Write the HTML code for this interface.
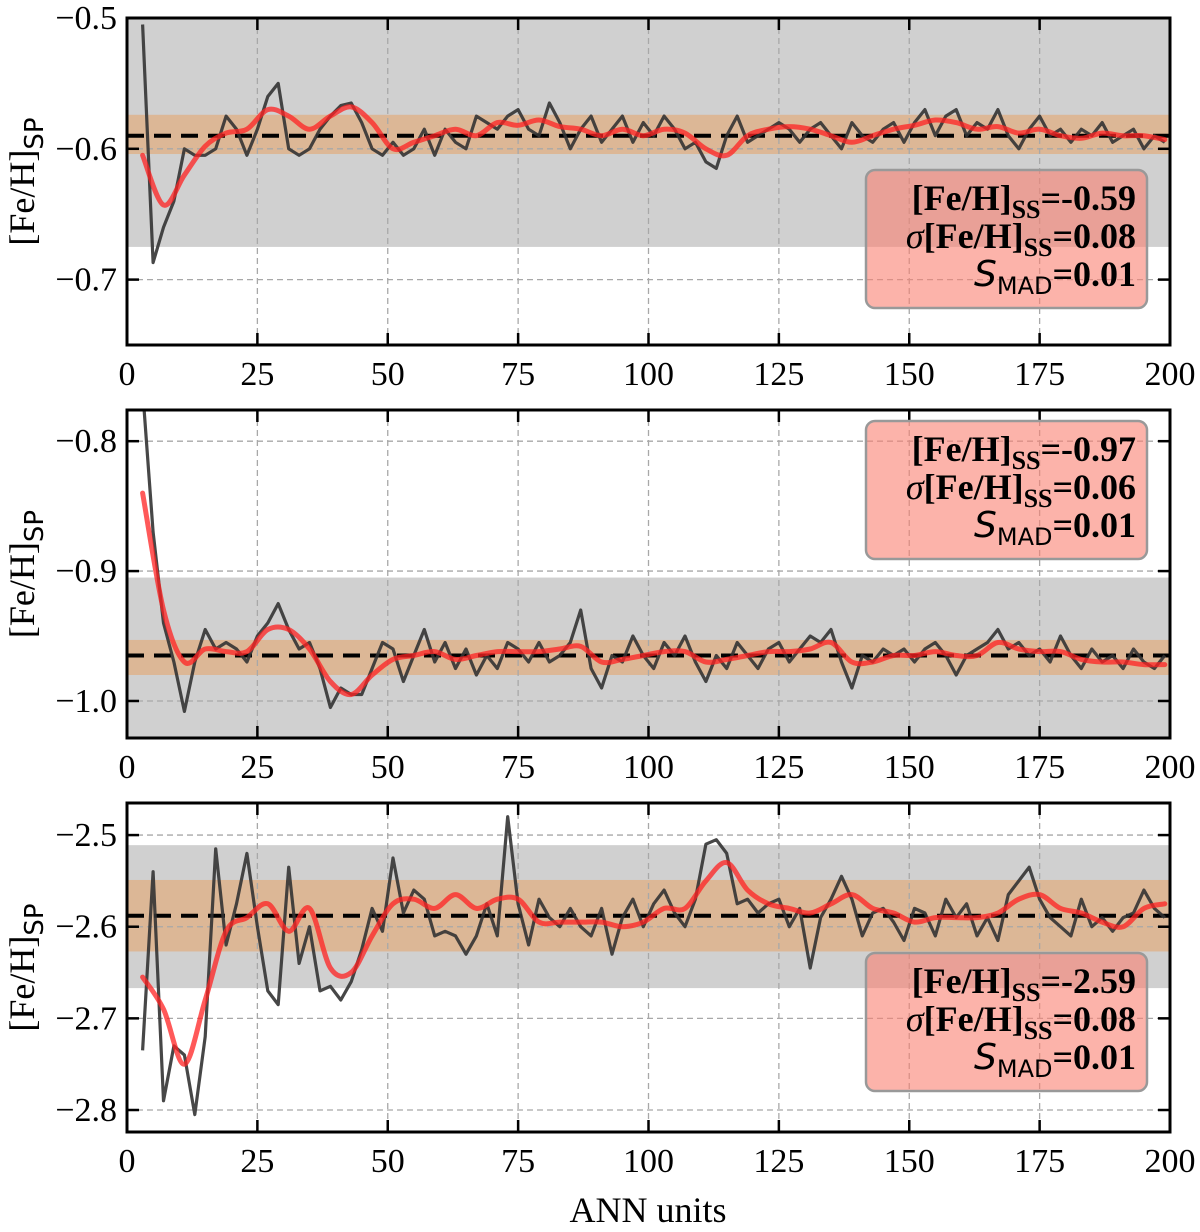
<!DOCTYPE html>
<html><head><meta charset="utf-8"><style>
html,body{margin:0;padding:0;background:#fff}
svg{display:block}
text{font-family:"Liberation Serif",serif}
</style></head><body>
<svg id="chart" width="1200" height="1232" viewBox="0 0 1200 1232" xmlns="http://www.w3.org/2000/svg"></svg>
<script>
// ---- data (x values = ANN units; black sampled every 2 units from 3, red every 4 units from 3) ----
const xTicks = [0,25,50,75,100,125,150,175,200];
const p1Black = [-0.505,-0.687,-0.66,-0.64,-0.60,-0.605,-0.605,-0.60,-0.575,-0.585,-0.605,-0.585,-0.56,-0.55,-0.60,-0.605,-0.60,-0.585,-0.575,-0.567,-0.565,-0.58,-0.60,-0.605,-0.595,-0.605,-0.60,-0.585,-0.605,-0.585,-0.595,-0.60,-0.575,-0.58,-0.585,-0.575,-0.57,-0.585,-0.59,-0.565,-0.58,-0.60,-0.585,-0.575,-0.595,-0.585,-0.575,-0.595,-0.58,-0.59,-0.575,-0.585,-0.60,-0.595,-0.61,-0.615,-0.59,-0.575,-0.595,-0.59,-0.585,-0.58,-0.585,-0.595,-0.585,-0.58,-0.59,-0.60,-0.58,-0.59,-0.595,-0.585,-0.58,-0.595,-0.58,-0.57,-0.59,-0.575,-0.57,-0.59,-0.58,-0.585,-0.57,-0.59,-0.60,-0.585,-0.575,-0.59,-0.585,-0.595,-0.585,-0.59,-0.58,-0.595,-0.59,-0.585,-0.60,-0.59,-0.595];
const p1Red = [-0.605,-0.643,-0.62,-0.598,-0.588,-0.585,-0.570,-0.575,-0.585,-0.575,-0.568,-0.580,-0.600,-0.595,-0.590,-0.585,-0.590,-0.580,-0.582,-0.578,-0.583,-0.585,-0.590,-0.585,-0.590,-0.585,-0.588,-0.600,-0.605,-0.590,-0.585,-0.583,-0.585,-0.590,-0.595,-0.590,-0.585,-0.582,-0.578,-0.580,-0.585,-0.583,-0.588,-0.585,-0.590,-0.592,-0.588,-0.590,-0.590,-0.593];
const p2Black = [-0.76,-0.87,-0.94,-0.97,-1.008,-0.97,-0.945,-0.96,-0.955,-0.96,-0.97,-0.95,-0.94,-0.925,-0.945,-0.96,-0.955,-0.975,-1.005,-0.99,-0.995,-0.995,-0.975,-0.955,-0.96,-0.985,-0.965,-0.945,-0.97,-0.955,-0.975,-0.96,-0.98,-0.965,-0.975,-0.955,-0.96,-0.97,-0.955,-0.97,-0.965,-0.955,-0.93,-0.975,-0.99,-0.965,-0.97,-0.95,-0.965,-0.975,-0.955,-0.965,-0.95,-0.97,-0.985,-0.965,-0.975,-0.955,-0.965,-0.975,-0.96,-0.955,-0.97,-0.96,-0.95,-0.955,-0.945,-0.97,-0.99,-0.965,-0.97,-0.96,-0.965,-0.96,-0.97,-0.96,-0.955,-0.965,-0.98,-0.965,-0.96,-0.955,-0.945,-0.96,-0.955,-0.965,-0.96,-0.97,-0.95,-0.965,-0.975,-0.96,-0.97,-0.965,-0.975,-0.96,-0.97,-0.975,-0.965];
const p2Red = [-0.84,-0.93,-0.97,-0.96,-0.962,-0.962,-0.945,-0.945,-0.96,-0.985,-0.995,-0.98,-0.968,-0.965,-0.962,-0.968,-0.965,-0.962,-0.962,-0.962,-0.96,-0.958,-0.97,-0.968,-0.965,-0.962,-0.962,-0.97,-0.968,-0.965,-0.962,-0.962,-0.96,-0.955,-0.97,-0.97,-0.965,-0.965,-0.962,-0.965,-0.965,-0.955,-0.96,-0.962,-0.962,-0.968,-0.97,-0.97,-0.972,-0.972];
const p3Black = [-2.735,-2.54,-2.79,-2.73,-2.74,-2.805,-2.72,-2.515,-2.62,-2.575,-2.52,-2.60,-2.67,-2.685,-2.535,-2.64,-2.60,-2.67,-2.665,-2.68,-2.66,-2.625,-2.58,-2.605,-2.525,-2.585,-2.56,-2.57,-2.61,-2.605,-2.61,-2.63,-2.61,-2.575,-2.61,-2.48,-2.575,-2.62,-2.57,-2.59,-2.60,-2.58,-2.60,-2.61,-2.58,-2.63,-2.59,-2.57,-2.60,-2.575,-2.56,-2.585,-2.60,-2.57,-2.51,-2.505,-2.52,-2.575,-2.57,-2.585,-2.575,-2.57,-2.60,-2.58,-2.645,-2.59,-2.57,-2.545,-2.57,-2.61,-2.585,-2.58,-2.595,-2.615,-2.58,-2.585,-2.61,-2.57,-2.59,-2.575,-2.61,-2.59,-2.615,-2.565,-2.55,-2.535,-2.57,-2.59,-2.60,-2.61,-2.57,-2.60,-2.59,-2.605,-2.59,-2.585,-2.56,-2.58,-2.59];
const p3Red = [-2.655,-2.69,-2.75,-2.68,-2.605,-2.59,-2.575,-2.605,-2.58,-2.645,-2.65,-2.61,-2.575,-2.57,-2.58,-2.565,-2.58,-2.57,-2.57,-2.595,-2.595,-2.595,-2.595,-2.60,-2.595,-2.58,-2.58,-2.55,-2.53,-2.56,-2.575,-2.58,-2.585,-2.575,-2.565,-2.58,-2.585,-2.595,-2.59,-2.59,-2.59,-2.585,-2.57,-2.565,-2.58,-2.585,-2.595,-2.60,-2.58,-2.575];
const p1Ticks = [-0.5,-0.6,-0.7];
const p2Ticks = [-0.8,-0.9,-1.0];
const p3Ticks = [-2.5,-2.6,-2.7,-2.8];
const p1Ref = {mean:-0.59, gray:[-0.5,-0.675], orange:[-0.574,-0.604]};
const p2Ref = {mean:-0.965, gray:[-0.905,-1.028], orange:[-0.953,-0.980]};
const p3Ref = {mean:-2.588, gray:[-2.511,-2.667], orange:[-2.549,-2.627]};
const p1Box = ["-0.59","0.08","0.01"];
const p2Box = ["-0.97","0.06","0.01"];
const p3Box = ["-2.59","0.08","0.01"];

const NS="http://www.w3.org/2000/svg";
const svg=document.getElementById('chart');
function mk(tag,attrs,parent){const e=document.createElementNS(NS,tag);for(const k in attrs)e.setAttribute(k,attrs[k]);(parent||svg).appendChild(e);return e;}
function fmt(v){const s=(Math.abs(v)).toFixed(1);return (v<0?'\u2212':'')+s;}
function smooth(pts){
  let d='M'+pts[0][0].toFixed(1)+','+pts[0][1].toFixed(1);
  for(let i=0;i<pts.length-1;i++){
    const p0=pts[Math.max(0,i-1)],p1=pts[i],p2=pts[i+1],p3=pts[Math.min(pts.length-1,i+2)];
    const c1=[p1[0]+(p2[0]-p0[0])/6,p1[1]+(p2[1]-p0[1])/6];
    const c2=[p2[0]-(p3[0]-p1[0])/6,p2[1]-(p3[1]-p1[1])/6];
    d+=` C${c1[0].toFixed(1)},${c1[1].toFixed(1)} ${c2[0].toFixed(1)},${c2[1].toFixed(1)} ${p2[0].toFixed(1)},${p2[1].toFixed(1)}`;
  }
  return d;
}

const X0=127,X1=1170;
let pid=0;
function panel(id,top,bot,ymax,ymin,ticks,ref,black,red,box,boxY){
  pid++;
  const g=mk('g',{});
  
  
  const cp=mk('clipPath',{id:'clip'+pid},g);
  mk('rect',{x:X0,y:top,width:X1-X0,height:bot-top},cp);
  const xs=v=>X0+(v-0)/(200-0)*(X1-X0);
  const ys=v=>top+(ymax-v)/(ymax-ymin)*(bot-top);
  const gy=mk('rect',{x:X0,y:ys(ref.gray[0]),width:X1-X0,height:ys(ref.gray[1])-ys(ref.gray[0]),fill:'#d0d0d0'},g);
  
  
  const ob=mk('rect',{x:X0,y:ys(ref.orange[0]),width:X1-X0,height:ys(ref.orange[1])-ys(ref.orange[0]),fill:'#dcb796'},g);
  
  
  xTicks.forEach(t=>{
    const l=mk('line',{x1:xs(t),x2:xs(t),y1:top,y2:bot,stroke:'#a8a8a8','stroke-width':1.3,'stroke-dasharray':'6,4'},g);
    
    
  });
  ticks.forEach(t=>{
    const l=mk('line',{x1:X0,x2:X1,y1:ys(t),y2:ys(t),stroke:'#a8a8a8','stroke-width':1.3,'stroke-dasharray':'6,4'},g);
    
    
  });
  const m=mk('line',{x1:X0,x2:X1,y1:ys(ref.mean),y2:ys(ref.mean),stroke:'#000','stroke-width':4,'stroke-dasharray':'17,10'},g);
  
  
  const lg=mk('g',{'clip-path':`url(#clip${pid})`},g);
  const bp=black.map((v,i)=>xs(3+2*i).toFixed(1)+','+ys(v).toFixed(1)).join(' ');
  const bl=mk('polyline',{points:bp,fill:'none',stroke:'#333','stroke-width':3.2,'stroke-opacity':0.9,'stroke-linejoin':'round'},lg);
  
  
  const rpts=red.map((v,i)=>[xs(3+4*i),ys(v)]);
  const rl=mk('path',{d:smooth(rpts),fill:'none',stroke:'#f22','stroke-width':5,'stroke-opacity':0.75,'stroke-linejoin':'round','stroke-linecap':'round'},lg);
  
  
  xTicks.forEach(t=>{
    mk('line',{x1:xs(t),x2:xs(t),y1:bot,y2:bot-12,stroke:'#000','stroke-width':2.5},g);
    mk('line',{x1:xs(t),x2:xs(t),y1:top,y2:top+12,stroke:'#000','stroke-width':2.5},g);
    const tx=mk('text',{x:xs(t),y:bot+40,'font-size':34,'text-anchor':'middle',fill:'#000'},g);
    tx.textContent=t;
    
    
  });
  ticks.forEach(t=>{
    mk('line',{x1:X0,x2:X0+12,y1:ys(t),y2:ys(t),stroke:'#000','stroke-width':2.5},g);
    mk('line',{x1:X1,x2:X1-12,y1:ys(t),y2:ys(t),stroke:'#000','stroke-width':2.5},g);
    const tx=mk('text',{x:X0-10,y:ys(t)+11,'font-size':34,'text-anchor':'end',fill:'#000'},g);
    tx.textContent=fmt(t);
    
    
  });
  const fr=mk('rect',{x:X0,y:top,width:X1-X0,height:bot-top,fill:'none',stroke:'#000','stroke-width':3},g);
  
  
  const yt=mk('text',{transform:`translate(34,${(top+bot)/2}) rotate(-90)`,'font-size':36,'text-anchor':'middle',fill:'#000'},g);
  yt.innerHTML='[Fe/H]<tspan font-family="DejaVu Sans, sans-serif" font-size="26" dy="9">SP</tspan>';
  
  
  const bg=mk('g',{},g);
  
  
  mk('rect',{x:866,y:boxY,width:281,height:138,rx:9,fill:'rgb(250,128,114)','fill-opacity':0.6,stroke:'#999','stroke-width':2.5},bg);
  const lines=[
    `[Fe/H]<tspan font-size="26" dy="8">SS</tspan><tspan dy="-8">=${box[0]}</tspan>`,
    `<tspan font-style="italic" font-weight="normal">σ</tspan>[Fe/H]<tspan font-size="26" dy="8">SS</tspan><tspan dy="-8">=${box[1]}</tspan>`,
    `<tspan font-family="DejaVu Sans, sans-serif" font-style="italic" font-weight="normal">S</tspan><tspan font-family="DejaVu Sans, sans-serif" font-weight="normal" font-size="24" dy="8">MAD</tspan><tspan dy="-8">=${box[2]}</tspan>`
  ];
  lines.forEach((h,i)=>{
    const t=mk('text',{x:1136,y:boxY+40+i*38,'font-size':36,'font-weight':'bold','text-anchor':'end',fill:'#000'},bg);
    t.innerHTML=h;
    
    
  });
}
panel('panel-top',18,345,-0.5,-0.75,p1Ticks,p1Ref,p1Black,p1Red,p1Box,170);
panel('panel-middle',410,738,-0.776,-1.0285,p2Ticks,p2Ref,p2Black,p2Red,p2Box,421);
panel('panel-bottom',803,1132,-2.465,-2.824,p3Ticks,p3Ref,p3Black,p3Red,p3Box,953);
const xl=mk('text',{x:648,y:1222,'font-size':36,'text-anchor':'middle',fill:'#000'});
xl.textContent='ANN units';


</script>
</body></html>
